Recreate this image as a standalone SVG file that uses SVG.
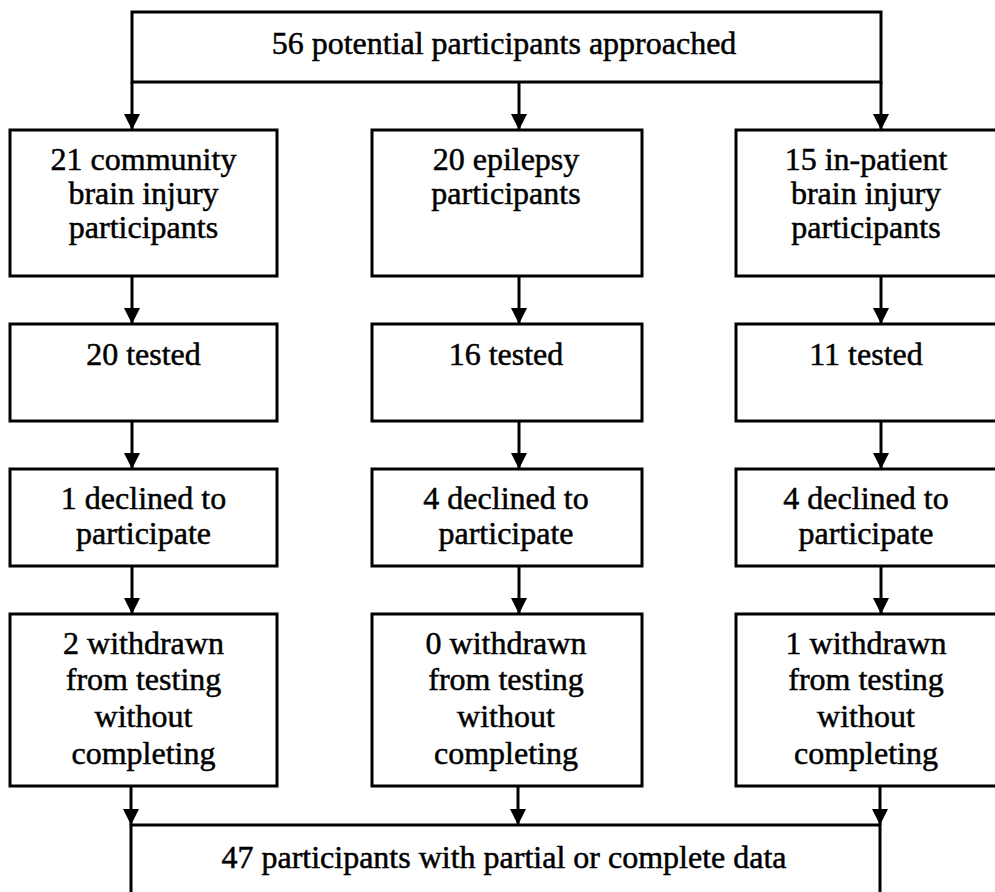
<svg xmlns="http://www.w3.org/2000/svg" width="995" height="892" viewBox="0 0 995 892">
<defs>
<marker id="ah" viewBox="0 0 16 16" markerUnits="userSpaceOnUse" markerWidth="16" markerHeight="16" refX="16" refY="8" orient="auto">
<path d="M0,0 L16,8 L0,16 z" fill="#000"/>
</marker>
<style>
.box{fill:#fff;stroke:#000;stroke-width:3}
.t{font-family:"Liberation Serif","Times New Roman",serif;font-size:32px;fill:#000;stroke:#000;stroke-width:0.5;text-anchor:middle}
.c{stroke:#000;stroke-width:3;fill:none;marker-end:url(#ah)}
</style>
</defs>
<rect width="995" height="892" fill="#fff"/>
<g id="n_top"><rect class="box" x="132" y="12" width="749" height="70"/><text class="t" x="504" y="54">56 potential participants approached</text></g>
<g id="n_comm"><rect class="box" x="10" y="130" width="267" height="146"/><text class="t" x="143.5" y="170">21 community</text><text class="t" x="143.5" y="204">brain injury</text><text class="t" x="143.5" y="238">participants</text></g>
<g id="n_epi"><rect class="box" x="372" y="130" width="270" height="146"/><text class="t" x="506" y="170">20 epilepsy</text><text class="t" x="506" y="204">participants</text></g>
<g id="n_inp"><rect class="box" x="736" y="130" width="270" height="146"/><text class="t" x="866" y="170">15 in-patient</text><text class="t" x="866" y="204">brain injury</text><text class="t" x="866" y="238">participants</text></g>
<g id="n_t1"><rect class="box" x="10" y="324" width="267" height="97"/><text class="t" x="143.5" y="365">20 tested</text></g>
<g id="n_t2"><rect class="box" x="372" y="324" width="270" height="97"/><text class="t" x="506" y="365">16 tested</text></g>
<g id="n_t3"><rect class="box" x="736" y="324" width="270" height="97"/><text class="t" x="866" y="365">11 tested</text></g>
<g id="n_d1"><rect class="box" x="10" y="469" width="267" height="97"/><text class="t" x="143.5" y="509">1 declined to</text><text class="t" x="143.5" y="544">participate</text></g>
<g id="n_d2"><rect class="box" x="372" y="469" width="270" height="97"/><text class="t" x="506" y="509">4 declined to</text><text class="t" x="506" y="544">participate</text></g>
<g id="n_d3"><rect class="box" x="736" y="469" width="270" height="97"/><text class="t" x="866" y="509">4 declined to</text><text class="t" x="866" y="544">participate</text></g>
<g id="n_w1"><rect class="box" x="10" y="614" width="267" height="172"/><text class="t" x="143.5" y="654">2 withdrawn</text><text class="t" x="143.5" y="690">from testing</text><text class="t" x="143.5" y="727">without</text><text class="t" x="143.5" y="764">completing</text></g>
<g id="n_w2"><rect class="box" x="372" y="614" width="270" height="172"/><text class="t" x="506" y="654">0 withdrawn</text><text class="t" x="506" y="690">from testing</text><text class="t" x="506" y="727">without</text><text class="t" x="506" y="764">completing</text></g>
<g id="n_w3"><rect class="box" x="736" y="614" width="270" height="172"/><text class="t" x="866" y="654">1 withdrawn</text><text class="t" x="866" y="690">from testing</text><text class="t" x="866" y="727">without</text><text class="t" x="866" y="764">completing</text></g>
<g id="n_final"><rect class="box" x="131" y="825" width="749" height="90"/><text class="t" x="504" y="868">47 participants with partial or complete data</text></g>
<g id="connectors">
<line class="c" x1="132" y1="82" x2="132" y2="130"/>
<line class="c" x1="519" y1="82" x2="519" y2="130"/>
<line class="c" x1="881" y1="82" x2="881" y2="130"/>
<line class="c" x1="132" y1="276" x2="132" y2="324"/>
<line class="c" x1="519" y1="276" x2="519" y2="324"/>
<line class="c" x1="881" y1="276" x2="881" y2="324"/>
<line class="c" x1="132" y1="421" x2="132" y2="469"/>
<line class="c" x1="519" y1="421" x2="519" y2="469"/>
<line class="c" x1="881" y1="421" x2="881" y2="469"/>
<line class="c" x1="132" y1="566" x2="132" y2="614"/>
<line class="c" x1="519" y1="566" x2="519" y2="614"/>
<line class="c" x1="881" y1="566" x2="881" y2="614"/>
<line class="c" x1="131" y1="786" x2="131" y2="825"/>
<line class="c" x1="518" y1="786" x2="518" y2="825"/>
<line class="c" x1="880" y1="786" x2="880" y2="825"/>
</g>
</svg>
